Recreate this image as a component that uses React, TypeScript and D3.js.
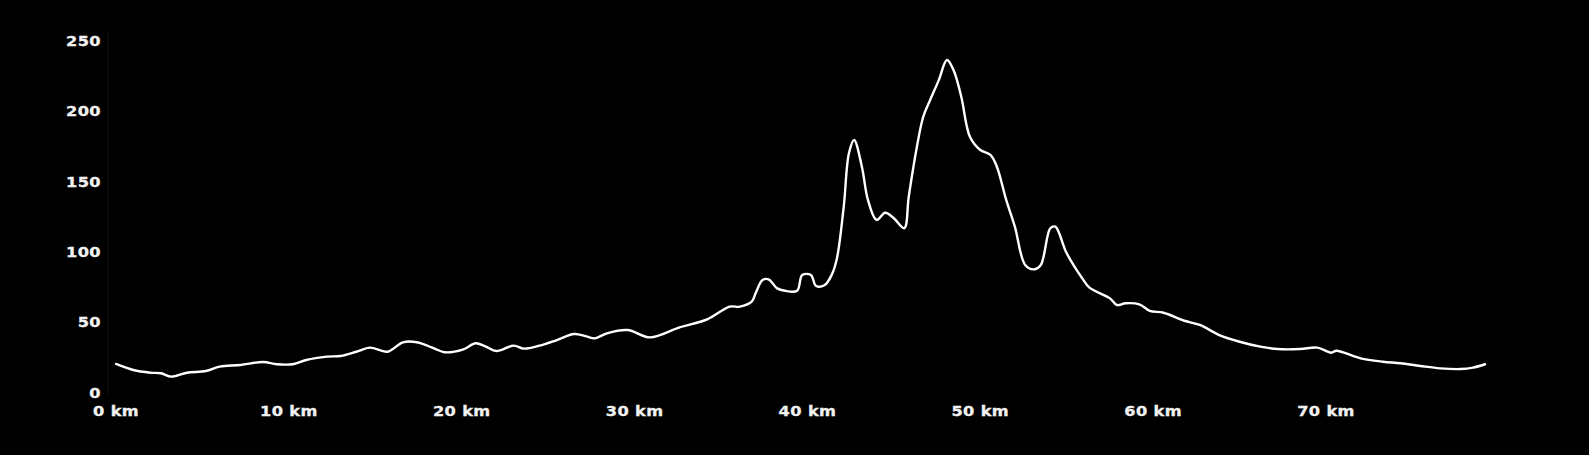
import React from 'react';
import { scaleLinear, line, curveCatmullRom } from 'd3';

const distKm = [
  0.0, 1.0, 2.0, 2.6, 3.2, 4.1, 5.2, 6.0, 7.2, 8.5, 9.3, 10.3, 11.0, 12.2, 13.0, 13.9, 14.7, 15.7,
  16.6, 17.4, 18.4, 19.0, 20.1, 20.8, 21.4, 22.0, 23.0, 23.6, 24.5, 25.5, 26.5, 27.2, 27.7, 28.4,
  29.6, 30.9, 32.6, 34.2, 35.5, 36.1, 36.8, 37.0, 37.4, 37.75, 38.25, 38.7, 39.4, 39.7, 40.2, 40.5,
  41.0, 41.4, 41.7, 42.1, 42.4, 42.7, 43.15, 43.5, 44.0, 44.5, 45.0, 45.6, 45.86, 46.3, 46.7, 47.1,
  47.6, 48.07, 48.45, 48.9, 49.4, 50.0, 50.6, 50.96, 51.5, 52.0, 52.6, 53.1, 53.5, 54.05, 54.34,
  55.0, 55.9, 56.3, 57.5, 57.9, 58.4, 59.2, 59.8, 60.6, 61.8, 62.7, 63.9, 65.0, 66.2, 67.2, 68.5,
  69.5, 70.3, 70.6, 72.0, 73.3, 74.3, 75.45, 76.6, 77.8, 78.5, 79.2,
];

const elevation = [
  20.4, 16.1, 14.2, 13.8, 11.4, 14.2, 15.4, 18.5, 19.7, 21.8, 20.2, 20.4, 23.2, 25.6, 26.1, 29.1, 32, 29.1,
  35.8, 35.8, 31.5, 28.7, 30.8, 35.1, 32.7, 29.6, 33.4, 31.3, 33.4, 37.4, 41.7, 40.0, 38.6, 42.2,
  44.5, 39.3, 46.4, 52.1, 61.1, 61.1, 65.1, 70.6, 80, 80.5, 74.1, 72.4, 72.4, 83.6, 83.6, 75.8,
  76.5, 83.6, 95, 132, 170, 179.5, 160.5, 136.9, 122.7, 127.8, 123.9, 116.8, 139.2, 172.4, 196, 207.9,
  222, 236.3, 229.2, 210.2, 181.8, 172.4, 168.8, 160.5, 136.9, 117.9, 90.7, 87.6, 90.7, 116.8, 117.9,
  99, 81.2, 74.8, 67, 62.3, 63.5, 62.8, 58.2, 56.8, 51.1, 48.1, 40.5, 36.2, 32.7, 31, 31,
  32, 28.4, 29.8, 24.4, 22, 20.9, 19, 17.3, 16.8, 17.8, 20.2,
];

const xTicks = [0, 10, 20, 30, 40, 50, 60, 70];
const yTicks = [0, 50, 100, 150, 200, 250];

const W = 1589;
const H = 455;

export default function App() {
  const x = scaleLinear().domain([0, 70]).range([116, 1326]);
  const y = scaleLinear().domain([0, 250]).range([392.7, 40.7]);

  const pts = distKm.map((d, i) => [d, elevation[i]] as [number, number]);
  const path = line<[number, number]>()
    .x(d => x(d[0]))
    .y(d => y(d[1]))
    .curve(curveCatmullRom.alpha(0.5))(pts);

  // labels in the picture are a wide bold face, so stretch DejaVu a bit
  const font = {
    fontFamily: '"DejaVu Sans", Verdana, sans-serif',
    fontWeight: 700,
    fontSize: 13.5,
    letterSpacing: 0.3,
  } as React.CSSProperties;

  return (
    <svg
      width={W}
      height={H}
      style={{ position: 'fixed', left: 0, top: 0, display: 'block' }}
    >
      <rect width={W} height={H} fill="#000" />
      <line x1={108} x2={108} y1={30} y2={395} stroke="#0b0b18" strokeWidth={1} />
      {yTicks.map(t => (
        <text
          key={t}
          transform={`translate(101,${y(t) + 5})scale(1.2,1)`}
          textAnchor="end"
          fill="#f2f2f2"
          stroke="#f2f2f2"
          strokeWidth={0.3}
          style={font}
        >
          {t}
        </text>
      ))}
      {xTicks.map(t => (
        <text
          key={t}
          transform={`translate(${x(t)},416.3)scale(1.2,1)`}
          textAnchor="middle"
          fill="#f2f2f2"
          stroke="#f2f2f2"
          strokeWidth={0.3}
          style={font}
        >
          {t} km
        </text>
      ))}
      <path
        d={path ?? ''}
        fill="none"
        stroke="#fff"
        strokeWidth={2.4}
        strokeLinejoin="round"
        strokeLinecap="round"
      />
    </svg>
  );
}
